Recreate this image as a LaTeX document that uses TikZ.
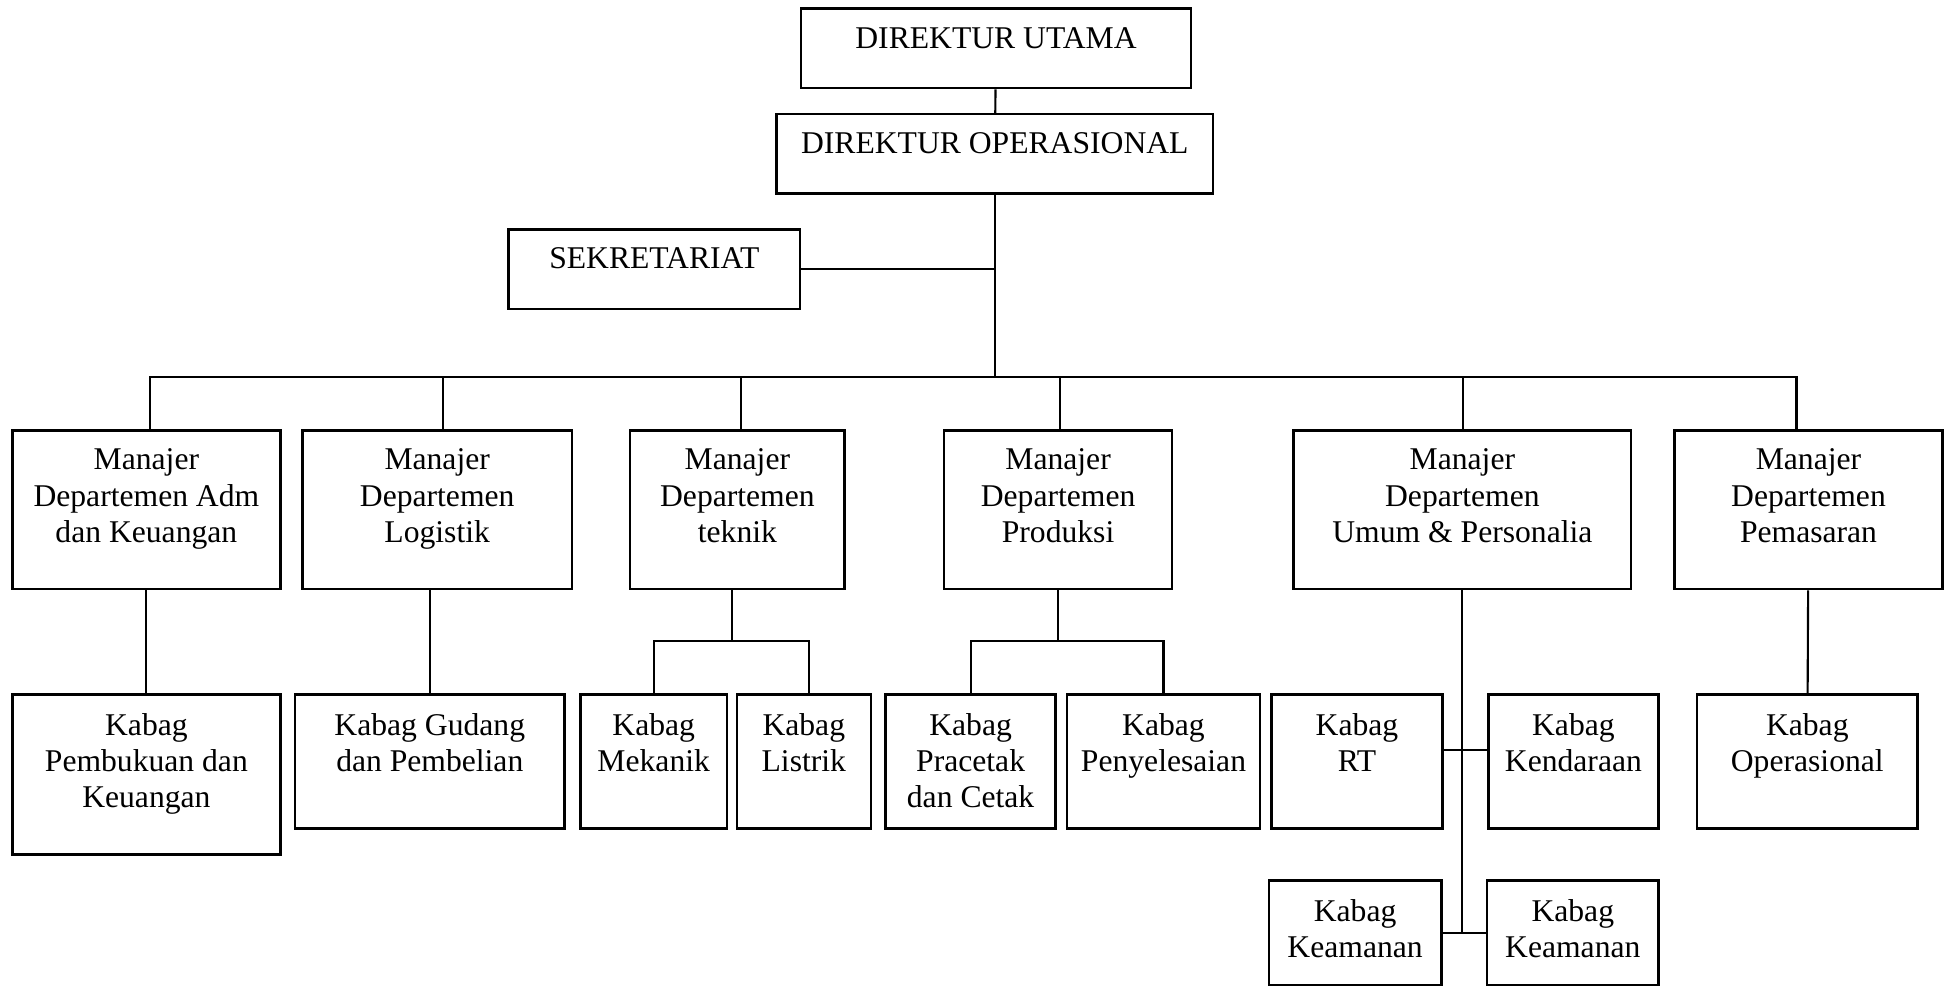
\documentclass[tikz,border=0pt]{standalone}
\usepackage{fontspec}
\setmainfont{Liberation Serif}
\usetikzlibrary{positioning}
\tikzset{
    unitbox/.style={rectangle, draw=black, line width=0.7pt, inner sep=0pt},
    unittext/.style={align=center, inner sep=0pt, font=\fontsize{9}{10.3}\selectfont},
    link/.style={draw=black, line width=0.6pt},
}

\begin{document}
\begin{tikzpicture}
    \useasboundingbox (0,0) rectangle (19.45,-9.874);

    % --- Direksi
    \node[unitbox, minimum width=3.895cm, minimum height=0.794cm] (du) at (9.960,-0.484) {};
    \node[unittext, below=0.19cm of du.north] (du-t) {DIREKTUR UTAMA};
    \node[unitbox, minimum width=4.366cm, minimum height=0.794cm] (do) at (9.948,-1.538) {};
    \node[unittext, below=0.19cm of do.north] (do-t) {DIREKTUR OPERASIONAL};
    \node[unitbox, minimum width=2.915cm, minimum height=0.794cm] (sek) at (6.543,-2.692) {};
    \node[unittext, below=0.19cm of sek.north] (sek-t) {SEKRETARIAT};

    % --- Manajer departemen
    \tikzset{mgr/.style={unitbox, minimum height=1.588cm}}
    \node[mgr, minimum width=2.679cm] (mAdm) at (1.464,-5.098) {};
    \node[unittext, below=0.19cm of mAdm.north] (mAdm-t) {Manajer\\Departemen Adm\\dan Keuangan};
    \node[mgr, minimum width=2.692cm] (mLog) at (4.372,-5.098) {};
    \node[unittext, below=0.19cm of mLog.north] (mLog-t) {Manajer\\Departemen\\Logistik};
    \node[mgr, minimum width=2.146cm] (mTek) at (7.374,-5.098) {};
    \node[unittext, below=0.19cm of mTek.north] (mTek-t) {Manajer\\Departemen\\teknik};
    \node[mgr, minimum width=2.282cm] (mPro) at (10.581,-5.098) {};
    \node[unittext, below=0.19cm of mPro.north] (mPro-t) {Manajer\\Departemen\\Produksi};
    \node[mgr, minimum width=3.374cm] (mUmum) at (14.624,-5.098) {};
    \node[unittext, below=0.19cm of mUmum.north] (mUmum-t) {Manajer\\Departemen\\Umum \& Personalia};
    \node[mgr, minimum width=2.679cm] (mPem) at (18.085,-5.098) {};
    \node[unittext, below=0.19cm of mPem.north] (mPem-t) {Manajer\\Departemen\\Pemasaran};

    % --- Kepala bagian
    \tikzset{kbg/.style={unitbox, minimum height=1.340cm}}
    \node[unitbox, minimum width=2.679cm, minimum height=1.600cm] (kPemb) at (1.464,-7.746) {};
    \node[unittext, below=0.19cm of kPemb.north] (kPemb-t) {Kabag\\Pembukuan dan\\Keuangan};
    \node[kbg, minimum width=2.692cm] (kGud) at (4.298,-7.616) {};
    \node[unittext, below=0.19cm of kGud.north] (kGud-t) {Kabag Gudang\\dan Pembelian};
    \node[kbg, minimum width=1.464cm] (kMek) at (6.537,-7.616) {};
    \node[unittext, below=0.19cm of kMek.north] (kMek-t) {Kabag\\Mekanik};
    \node[kbg, minimum width=1.340cm] (kLis) at (8.038,-7.616) {};
    \node[unittext, below=0.19cm of kLis.north] (kLis-t) {Kabag\\Listrik};
    \node[kbg, minimum width=1.699cm] (kPra) at (9.706,-7.616) {};
    \node[unittext, below=0.19cm of kPra.north] (kPra-t) {Kabag\\Pracetak\\dan Cetak};
    \node[kbg, minimum width=1.935cm] (kPeny) at (11.635,-7.616) {};
    \node[unittext, below=0.19cm of kPeny.north] (kPeny-t) {Kabag\\Penyelesaian};
    \node[kbg, minimum width=1.712cm] (kRT) at (13.570,-7.616) {};
    \node[unittext, below=0.19cm of kRT.north] (kRT-t) {Kabag\\RT};
    \node[kbg, minimum width=1.699cm] (kKen) at (15.734,-7.616) {};
    \node[unittext, below=0.19cm of kKen.north] (kKen-t) {Kabag\\Kendaraan};
    \node[kbg, minimum width=2.208cm] (kOps) at (18.073,-7.616) {};
    \node[unittext, below=0.19cm of kOps.north] (kOps-t) {Kabag\\Operasional};
    \node[unitbox, minimum width=1.724cm, minimum height=1.042cm] (kKea1) at (13.551,-9.328) {};
    \node[unittext, below=0.19cm of kKea1.north] (kKea1-t) {Kabag\\Keamanan};
    \node[unitbox, minimum width=1.712cm, minimum height=1.042cm] (kKea2) at (15.728,-9.328) {};
    \node[unittext, below=0.19cm of kKea2.north] (kKea2-t) {Kabag\\Keamanan};

    % --- Garis komando
    \coordinate (bus) at (do.south |- 0,-3.771);
    \coordinate (tekBus) at ([xshift=-0.5mm]mTek.south |- 0,-6.413);
    \coordinate (proBus) at (mPro.south |- 0,-6.413);
    \draw[link] (du) -- (do);
    \draw[link, line width=0.4pt] (do.south) -- (bus);
    \draw[link] (sek.east) -- (sek.east -| do.south);
    \foreach \m/\dx in {mAdm/0.4mm, mLog/0.6mm, mTek/0.4mm, mPro/0.2mm, mUmum/0.1mm, mPem/-1.2mm}
        \draw[link] (bus) -| ([xshift=\dx]\m.north);
    \draw[link] (mAdm) -- (kPemb);
    \draw[link] (kGud.north) -- (kGud.north |- mLog.south);
    \draw[link] (tekBus |- mTek.south) -- (tekBus);
    \draw[link] (kMek.north) |- (tekBus) -| ([xshift=0.5mm]kLis.north);
    \draw[link] (mPro.south) -- (proBus);
    \draw[link] (kPra.north) |- (proBus) -| (kPeny.north);
    \draw[link] (mUmum.south) -- (mUmum.south |- kKea1.east);
    \draw[link] ([yshift=1.2mm]kRT.east) -- ([yshift=1.2mm]kKen.west);
    \draw[link] (kKea1) -- (kKea2);
    \draw[link] (mPem) -- (kOps);
\end{tikzpicture}
\end{document}
